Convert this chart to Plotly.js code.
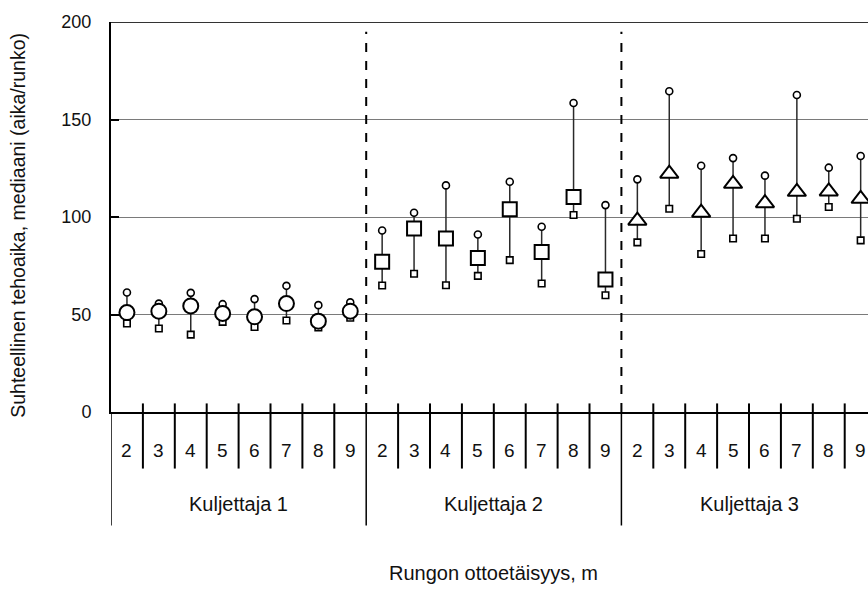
<!DOCTYPE html>
<html>
<head>
<meta charset="utf-8">
<script src="https://cdn.plot.ly/plotly-3.0.1.min.js"></script>
<style>html,body{margin:0;padding:0;background:#fff;}#chart{width:868px;height:590px;}</style>
</head>
<body>
<div id="chart"></div>
<script>
// ---- data ----
var drivers = ['Kuljettaja 1', 'Kuljettaja 2', 'Kuljettaja 3'];
var distances = ['2', '3', '4', '5', '6', '7', '8', '9'];

var median1 = [51.0, 51.7, 54.4, 50.5, 48.8, 55.6, 46.6, 51.7];
var max1    = [61.3, 55.6, 61.1, 55.3, 57.9, 64.7, 54.8, 56.2];
var min1    = [45.4, 42.8, 39.7, 46.2, 43.6, 46.9, 43.3, 48.3];

var median2 = [77.0, 94.1, 89.0, 79.0, 104.0, 82.0, 110.2, 68.0];
var max2    = [93.1, 102.2, 116.2, 91.0, 118.1, 95.0, 158.5, 106.1];
var min2    = [64.9, 70.9, 65.0, 69.8, 77.9, 65.9, 101.0, 59.9];

var median3 = [98.1, 122.2, 102.2, 117.0, 107.1, 112.9, 113.1, 109.3];
var max3    = [119.3, 164.5, 126.3, 130.2, 121.2, 162.6, 125.3, 131.3];
var min3    = [87.0, 104.2, 81.0, 89.0, 89.0, 99.1, 105.1, 88.0];

var yTicks = [0, 50, 100, 150, 200];
var yTitle = 'Suhteellinen tehoaika, mediaani (aika/runko)';
var xTitle = 'Rungon ottoetäisyys, m';

// ---- build ----
var medians = [median1, median2, median3];
var maxs = [max1, max2, max3];
var mins = [min1, min2, min3];
var medSymbols = ['circle', 'square', 'triangle-up'];
var medSizes = [15, 14, 16];
var nD = distances.length;
var FONT = '"Liberation Sans", Arial, sans-serif';
var TXT = '#111';

function xpos(g, i) { return g * nD + i; }

var lx = [], ly = [], px = [], pmax = [], pmin = [];
drivers.forEach(function (d, g) {
  distances.forEach(function (s, i) {
    var x = xpos(g, i);
    lx.push(x, x, null);
    ly.push(mins[g][i], maxs[g][i], null);
    px.push(x);
    pmax.push(maxs[g][i]);
    pmin.push(mins[g][i]);
  });
});

var traces = [
  { x: lx, y: ly, mode: 'lines', line: { color: '#2a2a2a', width: 1.5 }, hoverinfo: 'skip', showlegend: false },
  { x: px, y: pmax, mode: 'markers', marker: { symbol: 'circle', size: 7, color: '#fff', line: { color: '#000', width: 1.6 } }, showlegend: false },
  { x: px, y: pmin, mode: 'markers', marker: { symbol: 'square', size: 6.5, color: '#fff', line: { color: '#000', width: 1.6 } }, showlegend: false }
];
drivers.forEach(function (d, g) {
  traces.push({
    x: distances.map(function (s, i) { return xpos(g, i); }),
    y: medians[g],
    name: d,
    mode: 'markers',
    marker: { symbol: medSymbols[g], size: medSizes[g], color: '#fff', line: { color: '#000', width: 2 } },
    showlegend: false
  });
});

var nCat = drivers.length * nD;
var shapes = [];
var annotations = [];

// top frame line at 200
shapes.push({ type: 'line', xref: 'paper', x0: 0, x1: 1, yref: 'y', y0: 200, y1: 200, line: { color: '#333', width: 2 } });

// category boundary ticks crossing the axis
for (var k = 0; k < nCat - 1; k++) {
  if ((k + 1) % nD === 0) continue;
  shapes.push({ type: 'line', xref: 'x', x0: k + 0.5, x1: k + 0.5, yref: 'paper', y0: -0.145, y1: 0.022, line: { color: '#000', width: 2 } });
}
// group dividers
for (var g = 0; g <= drivers.length; g++) {
  var bx = g * nD - 0.5;
  shapes.push({ type: 'line', xref: 'x', x0: bx, x1: bx, yref: 'paper', y0: -0.291, y1: 0, line: { color: '#000', width: 1.5 } });
  if (g > 0 && g < drivers.length) {
    shapes.push({ type: 'line', xref: 'x', x0: bx, x1: bx, yref: 'y', y0: 0, y1: 195, line: { color: '#000', width: 2, dash: 'dash' } });
  }
}

// category labels
drivers.forEach(function (d, g) {
  distances.forEach(function (s, i) {
    annotations.push({ xref: 'x', yref: 'paper', x: xpos(g, i), y: -0.098, text: s, showarrow: false, xanchor: 'center', yanchor: 'middle', font: { family: FONT, size: 19, color: TXT } });
  });
  annotations.push({ xref: 'x', yref: 'paper', x: xpos(g, (nD - 1) / 2), y: -0.237, text: d, showarrow: false, xanchor: 'center', yanchor: 'middle', font: { family: FONT, size: 20, color: TXT } });
});
// axis titles
annotations.push({ xref: 'x', yref: 'paper', x: (nCat - 1) / 2, y: -0.413, text: xTitle, showarrow: false, xanchor: 'center', yanchor: 'middle', font: { family: FONT, size: 20, color: TXT } });
annotations.push({ xref: 'paper', yref: 'paper', x: -0.1229, y: 0.48, text: yTitle, textangle: -90, showarrow: false, xanchor: 'center', yanchor: 'middle', font: { family: FONT, size: 19.5, color: TXT } });

var layout = {
  width: 868, height: 590,
  margin: { l: 111, r: 0, t: 22, b: 178, pad: 0 },
  paper_bgcolor: '#fff', plot_bgcolor: '#fff',
  showlegend: false,
  font: { family: FONT, color: TXT },
  xaxis: {
    range: [-0.5, 23.23], showticklabels: false, ticks: '', showgrid: false, zeroline: false,
    showline: true, linecolor: '#000', linewidth: 2, fixedrange: true
  },
  yaxis: {
    range: [0, 200], tickvals: yTicks, ticktext: yTicks.map(String),
    showgrid: true, gridcolor: '#7a7a7a', gridwidth: 1, zeroline: false,
    showline: true, linecolor: '#000', linewidth: 2,
    ticks: 'inside', ticklen: 8, tickwidth: 2, tickcolor: '#000',
    ticklabelstandoff: 14,
    tickfont: { family: FONT, size: 18, color: TXT }, fixedrange: true
  },
  shapes: shapes,
  annotations: annotations
};

Plotly.newPlot('chart', traces, layout, { staticPlot: true, displayModeBar: false });
</script>
</body>
</html>
